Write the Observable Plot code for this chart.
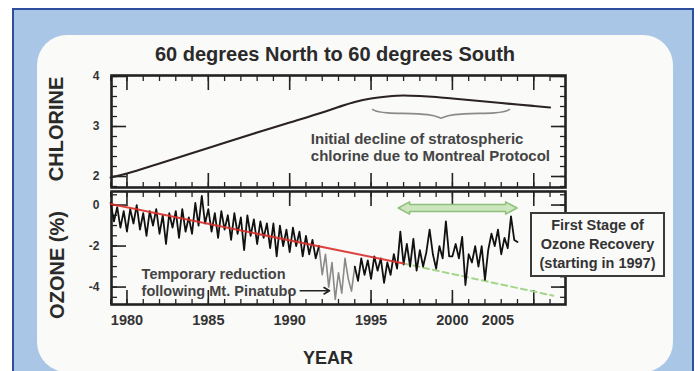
<!DOCTYPE html>
<html><head><meta charset="utf-8">
<script src="https://cdn.jsdelivr.net/npm/d3@7"></script>
<script src="https://cdn.jsdelivr.net/npm/@observablehq/plot@0.6"></script>
<style>
html,body{margin:0;padding:0;background:#fff;}
#page{position:relative;width:700px;height:371px;overflow:hidden;font-family:"Liberation Sans",Arial,Helvetica,sans-serif;}
#outer{position:absolute;left:12px;top:8px;width:682px;height:420px;background:#aac6e6;border:2px solid #2c4e9c;box-sizing:border-box;}
#card{position:absolute;left:37px;top:35px;width:636px;height:337px;background:#fafaf8;border-radius:30px;}
.lbl{position:absolute;font-weight:bold;color:#2a2a2a;white-space:nowrap;}
#title{left:0;width:670px;top:43px;text-align:center;font-size:20px;}
#chl{left:56px;top:129px;font-size:20px;transform:translate(-50%,-50%) rotate(-90deg);}
#ozl{left:57px;top:265px;font-size:20px;transform:translate(-50%,-50%) rotate(-90deg);}
#year{left:328px;top:358px;font-size:18px;transform:translate(-50%,-50%);}
#box{position:absolute;left:530px;top:212px;width:135px;height:65px;box-sizing:border-box;border:2.5px solid #3a3a3a;background:#fafaf8;
 font-weight:bold;font-size:14.5px;line-height:19px;color:#333;text-align:center;padding-top:2px;}
svg{position:absolute;left:0;top:0;}
</style></head>
<body>
<div id="page">
  <div id="outer"></div>
  <div id="card"></div>
  <div id="title" class="lbl">60 degrees North to 60 degrees South</div>
  <div id="chl" class="lbl">CHLORINE</div>
  <div id="ozl" class="lbl">OZONE (%)</div>
  <div id="year" class="lbl">YEAR</div>
</div>
<script>
// ---------- data ----------
const chlorineYears  = [1979, 1980, 1982, 1985, 1988, 1990, 1992, 1993, 1994, 1995, 1996, 1997, 1998, 1999, 2000, 2001, 2002, 2003, 2004, 2005, 2006];
const chlorineValues = [1.98, 2.06, 2.26, 2.57, 2.88, 3.08, 3.28, 3.39, 3.49, 3.56, 3.60, 3.62, 3.61, 3.59, 3.56, 3.53, 3.50, 3.47, 3.44, 3.41, 3.38];

const ozoneYears = [
 1979.0,1979.2,1979.4,1979.6,1979.8, 1980.0,1980.2,1980.4,1980.6,1980.8,
 1981.0,1981.2,1981.4,1981.6,1981.8, 1982.0,1982.2,1982.4,1982.6,1982.8,
 1983.0,1983.2,1983.4,1983.6,1983.8, 1984.0,1984.2,1984.4,1984.6,1984.8,
 1985.0,1985.2,1985.4,1985.6,1985.8, 1986.0,1986.2,1986.4,1986.6,1986.8,
 1987.0,1987.2,1987.4,1987.6,1987.8, 1988.0,1988.2,1988.4,1988.6,1988.8,
 1989.0,1989.2,1989.4,1989.6,1989.8, 1990.0,1990.2,1990.4,1990.6,1990.8,
 1991.0,1991.2,1991.4,1991.6,1991.8, 1992.0,1992.2,1992.4,1992.6,1992.8,
 1993.0,1993.2,1993.4,1993.6,1993.8, 1994.0,1994.2,1994.4,1994.6,1994.8,
 1995.0,1995.2,1995.4,1995.6,1995.8, 1996.0,1996.2,1996.4,1996.6,1996.8,
 1997.0,1997.2,1997.4,1997.6,1997.8, 1998.0,1998.2,1998.4,1998.6,1998.8,
 1999.0,1999.2,1999.4,1999.6,1999.8, 2000.0,2000.2,2000.4,2000.6,2000.8,
 2001.0,2001.2,2001.4,2001.6,2001.8, 2002.0,2002.2,2002.4,2002.6,2002.8,
 2003.0,2003.2,2003.4,2003.6,2003.8, 2004.0];
const ozoneValues = [
  0.1,-0.8,-0.1,-1.1,-0.3,  -1.3,-0.2,-0.9, 0.0,-1.2,
 -0.4,-1.5,-0.3,-1.0,-0.2,  -1.4,-0.5,-1.9,-0.4,-1.1,
 -0.3,-1.6,-0.2,-1.3,-0.6,  -1.4, 0.1,-1.0, 0.45,-0.9,
 -0.2,-1.3,-0.4,-1.6,-0.3,  -1.2,-0.5,-1.7,-0.4,-1.4,
 -0.6,-2.2,-0.5,-1.5,-0.7,  -1.9,-0.8,-1.6,-0.9,-2.1,
 -0.9,-2.5,-1.0,-2.0,-1.2,  -2.3,-1.1,-2.0,-1.3,-2.5,
 -1.5,-2.4,-1.7,-2.6,-2.0,  -3.4,-2.4,-4.0,-2.8,-4.6,
 -3.3,-4.3,-2.6,-3.6,-4.2,  -3.0,-3.7,-2.6,-3.4,-2.7,
 -3.6,-2.5,-3.2,-2.6,-3.8,  -2.8,-3.4,-2.4,-3.1,-1.3,
 -2.9,-1.9,-3.0,-1.65,-3.2, -2.2,-3.0,-2.3,-1.2,-2.4,
 -3.1,-2.0,-2.6,-0.8,-2.5,  -2.5,-1.9,-2.6,-1.55,-3.9,
 -2.4,-2.8,-2.0,-3.0,-2.0,  -3.65,-2.2,-1.4,-2.0,-1.2,
 -2.4,-1.6,-2.1,-0.55,-1.7, -1.8];
const pinatuboPeriod = [1991.8, 1994.0];

const trendYears  = [1979.0, 1997.0];
const trendValues = [0.05, -2.85];
const projectionYears  = [1997.0, 2006.2];
const projectionValues = [-2.85, -4.42];

const recoveryArrowYears = [1996.7, 1997.4, 1997.4, 2003.3, 2003.3, 2004.0];
const recoveryArrowLow   = [-0.17, -0.47, -0.34, -0.34, -0.47, -0.17];
const recoveryArrowHigh  = [-0.17,  0.13,  0.00,  0.00,  0.13, -0.17];

const braceYears  = [1995.1, 1995.5, 1999.0, 1999.3, 1999.6, 2003.1, 2003.5];
const braceValues = [3.34, 3.26, 3.26, 3.12, 3.26, 3.26, 3.34];

const majorYears = [1980, 1985, 1990, 1995, 2000, 2005];
const minorYears = [1979,1980,1981,1982,1983,1984,1985,1986,1987,1988,1989,1990,1991,1992,1993,1994,1995,1996,1997,1998,1999,2000,2001,2002,2003,2004,2005,2006];
const yearLabels = ["1980", "1985", "1990", "1995", "2000", "2005"];
const yearLabelPositions = [1980, 1985, 1990, 1995, 2000, 2002.8];

const chlorineMajor = [2, 3, 4];
const chlorineMinor = [1.8,2.0,2.2,2.4,2.6,2.8,3.0,3.2,3.4,3.6,3.8,4.0];
const ozoneMajor = [0, -2, -4];
const ozoneMinor = [0.5,0,-0.5,-1,-1.5,-2,-2.5,-3,-3.5,-4,-4.5];

const chlorineNote = "Initial decline of stratospheric\nchlorine due to Montreal Protocol";
const chlorineNoteAt = {year: 1991.3, value: 2.59};
const pinatuboNote = "Temporary reduction\nfollowing Mt. Pinatubo";
const pinatuboNoteAt = {year: 1980.9, value: -3.75};
const pinatuboArrow = {from: 1990.65, to: 1992.45, value: -4.18};
const recoveryNote = ["First Stage of", "Ozone Recovery", "(starting in 1997)"];

// ---------- tables ----------
const chlorine = chlorineYears.map((y, i) => ({year: y, value: chlorineValues[i]}));
const ozone = ozoneYears.map((y, i) => ({year: y, value: ozoneValues[i]}));
const ozonePre  = ozone.filter(d => d.year <= pinatuboPeriod[0]);
const ozonePina = ozone.filter(d => d.year >= pinatuboPeriod[0] && d.year <= pinatuboPeriod[1]);
const ozonePost = ozone.filter(d => d.year >= pinatuboPeriod[1]);
const trend = trendYears.map((y, i) => ({year: y, value: trendValues[i]}));
const projection = projectionYears.map((y, i) => ({year: y, value: projectionValues[i]}));
const recoveryArrow = recoveryArrowYears.map((y, i) => ({year: y, lo: recoveryArrowLow[i], hi: recoveryArrowHigh[i]}));
const brace = braceYears.map((y, i) => ({year: y, value: braceValues[i]}));
const yearLabelData = yearLabels.map((t, i) => ({label: t, pos: yearLabelPositions[i]}));

const xDomain = [1979.05, 2006.95];
const ink = "#222";
const FONT = "Liberation Sans, Arial, sans-serif";

function frameTicks(yMajor, yMinor) {
  const blank = () => "";
  const common = {tickFormat: blank, stroke: ink, label: null};
  return [
    Plot.axisX({anchor: "top", ticks: minorYears, tickSize: -5, strokeWidth: 1.3, ...common}),
    Plot.axisX({anchor: "top", ticks: majorYears, tickSize: -14, strokeWidth: 1.6, ...common}),
    Plot.axisX({anchor: "bottom", ticks: minorYears, tickSize: -5, strokeWidth: 1.3, ...common}),
    Plot.axisX({anchor: "bottom", ticks: majorYears, tickSize: -14, strokeWidth: 1.6, ...common}),
    Plot.axisY({anchor: "left", ticks: yMinor, tickSize: -6, strokeWidth: 1.3, ...common}),
    Plot.axisY({anchor: "left", ticks: yMajor, tickSize: -15, strokeWidth: 1.6, ...common}),
    Plot.axisY({anchor: "right", ticks: yMinor, tickSize: -6, strokeWidth: 1.3, ...common}),
    Plot.axisY({anchor: "right", ticks: yMajor, tickSize: -15, strokeWidth: 1.6, ...common}),
    Plot.axisY({anchor: "left", ticks: yMajor, tickSize: 0, tickPadding: 12, tickFormat: d => String(d), label: null, fontSize: 12, fontWeight: "bold", fill: "#333"}),
    Plot.frame({stroke: ink, strokeWidth: 2.6})
  ];
}

const chlorinePlot = Plot.plot({
  width: 700, height: 200, marginLeft: 111, marginRight: 135, marginTop: 75, marginBottom: 13,
  x: {domain: xDomain, axis: null}, y: {domain: [1.78, 4.02], axis: null},
  style: {background: "transparent", overflow: "visible", fontFamily: FONT},
  marks: [
    ...frameTicks(chlorineMajor, chlorineMinor),
    Plot.line(chlorine, {x: "year", y: "value", stroke: "#2b2222", strokeWidth: 2.2, curve: "monotone-x"}),
    Plot.line(brace, {x: "year", y: "value", stroke: "#8a8a8a", strokeWidth: 1.6, curve: "basis"}),
    Plot.text([chlorineNote], {x: chlorineNoteAt.year, y: chlorineNoteAt.value, text: d => d, textAnchor: "start", lineAnchor: "middle", lineHeight: 1.15, fontSize: 15, fontWeight: "bold", fill: "#444"})
  ]
});

const ozonePlot = Plot.plot({
  width: 700, height: 371, marginLeft: 111, marginRight: 135, marginTop: 191, marginBottom: 67,
  x: {domain: xDomain, axis: null}, y: {domain: [-4.85, 0.66], axis: null},
  style: {background: "transparent", overflow: "visible", fontFamily: FONT},
  marks: [
    ...frameTicks(ozoneMajor, ozoneMinor),
    Plot.areaY(recoveryArrow, {x: "year", y1: "lo", y2: "hi", fill: "#cde6bd", stroke: "#8fc07c", strokeWidth: 1.5}),
    Plot.line(projection, {x: "year", y: "value", stroke: "#a6d68b", strokeWidth: 2, strokeDasharray: "6,4"}),
    Plot.line(ozonePina, {x: "year", y: "value", stroke: "#8a8a8a", strokeWidth: 1.6}),
    Plot.line(ozonePre, {x: "year", y: "value", stroke: "#111", strokeWidth: 1.8}),
    Plot.line(ozonePost, {x: "year", y: "value", stroke: "#111", strokeWidth: 1.8}),
    Plot.line(trend, {x: "year", y: "value", stroke: "#d9302a", strokeWidth: 2, strokeOpacity: 0.9}),
    Plot.text([pinatuboNote], {x: pinatuboNoteAt.year, y: pinatuboNoteAt.value, text: d => d, textAnchor: "start", lineAnchor: "middle", lineHeight: 1.2, fontSize: 14.5, fontWeight: "bold", fill: "#444"}),
    Plot.arrow([pinatuboArrow], {x1: "from", x2: "to", y1: "value", y2: "value", stroke: "#222", strokeWidth: 1.6, headLength: 6}),
    Plot.text(yearLabelData, {x: "pos", text: "label", frameAnchor: "bottom", dy: 20, fontSize: 14.5, fontWeight: "bold", fill: "#333"})
  ]
});

const page = document.getElementById("page");
page.appendChild(chlorinePlot);
page.appendChild(ozonePlot);
const box = document.createElement("div");
box.id = "box";
box.innerHTML = recoveryNote.join("<br>");
page.appendChild(box);
</script>
</body></html>
